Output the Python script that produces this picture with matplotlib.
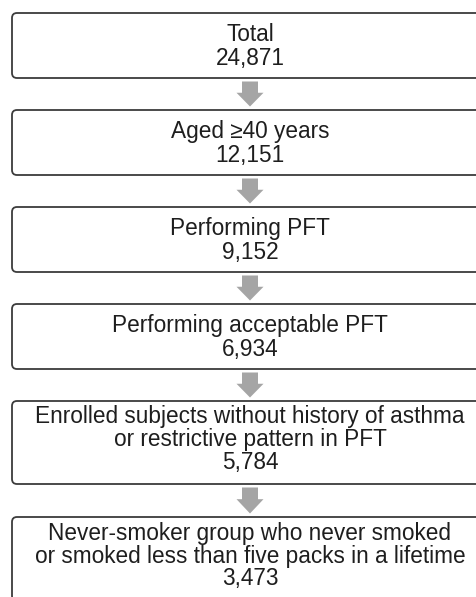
import matplotlib.pyplot as plt
from matplotlib.patches import FancyBboxPatch, Polygon

plt.rcParams['font.family'] = ['Liberation Sans', 'DejaVu Sans']

# flowchart steps
steps = [
    "Total",
    "Aged \u226540 years",
    "Performing PFT",
    "Performing acceptable PFT",
    "Enrolled subjects without history of asthma\nor restrictive pattern in PFT",
    "Never-smoker group who never smoked\nor smoked less than five packs in a lifetime",
]
counts = [24871, 12151, 9152, 6934, 5784, 3473]

# box layout in pixels (top, bottom)
tops = [13, 110, 207, 304, 401, 517]
bottoms = [78, 175, 272, 369, 484, 601]
left, right = 12, 488
cx = 250

W, H = 476, 597
fig = plt.figure(figsize=(W / 100, H / 100), dpi=100)
ax = fig.add_axes([0, 0, 1, 1])
ax.set_xlim(0, W)
ax.set_ylim(H, 0)
ax.axis('off')

for i, (lab, n) in enumerate(zip(steps, counts)):
    t, b = tops[i], bottoms[i]
    box = FancyBboxPatch((left, t), right - left, b - t,
                         boxstyle="round,pad=0,rounding_size=5",
                         fc='white', ec='#3c3c3c', lw=1.3)
    ax.add_patch(box)
    three = '\n' in lab
    yc = (t + b) / 2 + (-3 if three else 1)
    ax.text(cx, yc, f"{lab}\n{n:,}", ha='center', va='center',
            fontsize=16.3, color='#1e1e1e', linespacing=0.98 if three else 1.07)

    if i < len(steps) - 1:
        y0 = b + 3.5
        y1 = tops[i + 1] - 3.5
        yh = y0 + (y1 - y0) * 0.45
        arrow = Polygon([(cx - 8, y0), (cx + 8, y0), (cx + 8, yh), (cx + 13.5, yh),
                         (cx, y1), (cx - 13.5, yh), (cx - 8, yh)],
                        closed=True, fc='#a5a5a5', ec='none')
        ax.add_patch(arrow)

fig.savefig('out.png', dpi=100)
